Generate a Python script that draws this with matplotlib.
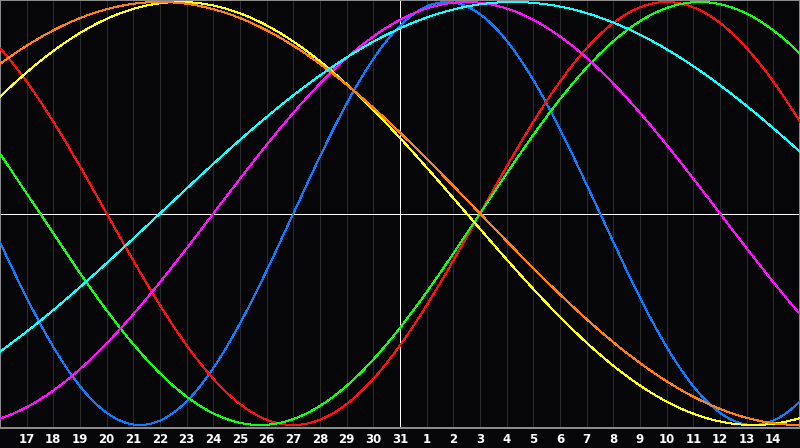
import datetime as dt
import numpy as np
import matplotlib
matplotlib.use("Agg")
import matplotlib.pyplot as plt

# ---- data -------------------------------------------------------------
birth_date = dt.date(1900, 1, 1)
center_date = dt.date(2006, 3, 31)
days_before = 15
days_after = 15
cycle_names = ["Physical", "Emotional", "Intellectual", "Intuitive",
               "Aesthetic", "Awareness", "Spiritual"]
cycle_periods = [23, 28, 33, 38, 43, 48, 53]
cycle_colors = ["#0a7cff", "#ff1010", "#10ff10", "#ff10ff",
                "#ffff10", "#ff8010", "#10ffff"]
tick_offsets = list(range(-14, 15))
tick_labels = ["17", "18", "19", "20", "21", "22", "23", "24", "25", "26",
               "27", "28", "29", "30", "31", "1", "2", "3", "4", "5", "6",
               "7", "8", "9", "10", "11", "12", "13", "14"]

# ---- figure -----------------------------------------------------------
W, H = 800, 448
PX = 72 / 100  # one pixel in points
fig = plt.figure(figsize=(W / 100, H / 100), dpi=100, facecolor="#060608")
plot_h = 428
ax = fig.add_axes([0, (H - plot_h) / H, 1, plot_h / H])
ax.set_facecolor("#060608")

amp_px = 211.5
center_from_top = 213.5
ax.set_xlim(-days_before, days_after)
ax.set_ylim(-(plot_h - center_from_top) / amp_px, center_from_top / amp_px)

# day grid
for off in tick_offsets:
    if off == 0:
        continue
    ax.axvline(off, color="#2c2c2e", lw=PX, zorder=1, antialiased=False)
ax.axvline(0, color="white", lw=PX, zorder=2, antialiased=False)
ax.axhline(0, color="white", lw=PX, zorder=2, antialiased=False)

days_alive = (center_date - birth_date).days
t = np.linspace(-days_before, days_after, 1601)
for name, period, color in zip(cycle_names, cycle_periods, cycle_colors):
    y = np.sin(2 * np.pi * (days_alive + t) / period)
    ax.plot(t, y, color=color, lw=PX, zorder=3, antialiased=False, label=name)

for s in ax.spines.values():
    s.set_color("#8a8a8a")
    s.set_linewidth(2 * PX)
    s.set_antialiased(False)

ax.set_xticks(tick_offsets)
ax.set_xticklabels(tick_labels)
ax.set_yticks([])
ax.tick_params(axis="x", length=0, pad=3.5, colors="white", labelsize=8.5)
for lbl in ax.get_xticklabels():
    lbl.set_fontweight("bold")
    lbl.set_family("DejaVu Sans")

fig.savefig("out.png", dpi=100, facecolor=fig.get_facecolor())
